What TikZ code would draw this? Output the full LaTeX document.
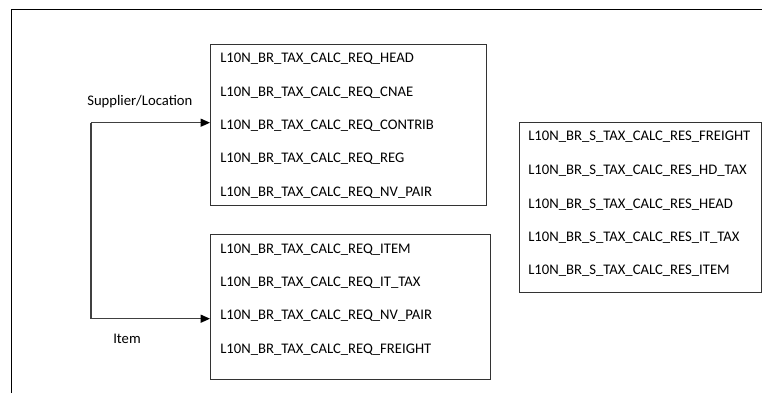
\documentclass[tikz,border=0pt]{standalone}
\usepackage{fontspec}
\setmainfont{Carlito}
\usetikzlibrary{arrows.meta}
\begin{document}
\begin{tikzpicture}[x=0.75pt,y=-0.75pt,
  tbl/.style={draw=black!80,line width=0.8pt,rectangle,inner sep=0pt,anchor=north west},
  row/.style={anchor=west,inner sep=0pt,font=\fontsize{11pt}{13pt}\selectfont,text=black},
  lbl/.style={inner sep=0pt,font=\fontsize{11pt}{13pt}\selectfont,text=black},
  conn/.style={draw=black!75,line width=0.9pt},
  arr/.style={conn,-{Triangle[length=7pt,width=6pt,fill=black,color=black]}},
  frame/.style={draw=black,line width=1pt}]
\useasboundingbox (0,0) rectangle (762,393);
\draw[frame] (11.5,393) -- (11.5,9.5) -- (762,9.5);
% box 1
\node[tbl,minimum width=276*0.75pt,minimum height=161*0.75pt] (req) at (210,43.5) {};
\node[row] (r1) at (220,58.3) {L10N\_BR\_TAX\_CALC\_REQ\_HEAD};
\node[row] (r2) at (220,92.3) {L10N\_BR\_TAX\_CALC\_REQ\_CNAE};
\node[row] (r3) at (220,125.7) {L10N\_BR\_TAX\_CALC\_REQ\_CONTRIB};
\node[row] (r4) at (220,159) {L10N\_BR\_TAX\_CALC\_REQ\_REG};
\node[row] (r5) at (220,192.3) {L10N\_BR\_TAX\_CALC\_REQ\_NV\_PAIR};
% box 2
\node[tbl,minimum width=280*0.75pt,minimum height=145*0.75pt] (item) at (210,234.3) {};
\node[row] (i1) at (220,249.3) {L10N\_BR\_TAX\_CALC\_REQ\_ITEM};
\node[row] (i2) at (220,282.7) {L10N\_BR\_TAX\_CALC\_REQ\_IT\_TAX};
\node[row] (i3) at (220,315.7) {L10N\_BR\_TAX\_CALC\_REQ\_NV\_PAIR};
\node[row] (i4) at (220,349.3) {L10N\_BR\_TAX\_CALC\_REQ\_FREIGHT};
% box 3
\node[tbl,minimum width=242*0.75pt,minimum height=169.5*0.75pt] (res) at (519,122.3) {};
\node[row] (s1) at (528,136.7) {L10N\_BR\_S\_TAX\_CALC\_RES\_FREIGHT};
\node[row] (s2) at (528,171) {L10N\_BR\_S\_TAX\_CALC\_RES\_HD\_TAX};
\node[row] (s3) at (528,205) {L10N\_BR\_S\_TAX\_CALC\_RES\_HEAD};
\node[row] (s4) at (528,237.7) {L10N\_BR\_S\_TAX\_CALC\_RES\_IT\_TAX};
\node[row] (s5) at (528,270.7) {L10N\_BR\_S\_TAX\_CALC\_RES\_ITEM};
% connectors
\coordinate (ctop) at (91,122.7);
\coordinate (cbot) at (91,318.7);
\draw[conn] (ctop) -- (cbot);
\draw[arr] (ctop) -- (req.west |- ctop);
\draw[arr] (cbot) -- (item.west |- cbot);
\node[lbl,anchor=west] (lsup) at (87,101.7) {Supplier/Location};
\node[lbl,anchor=west] (litem) at (113,338.7) {Item};
\end{tikzpicture}
\end{document}
